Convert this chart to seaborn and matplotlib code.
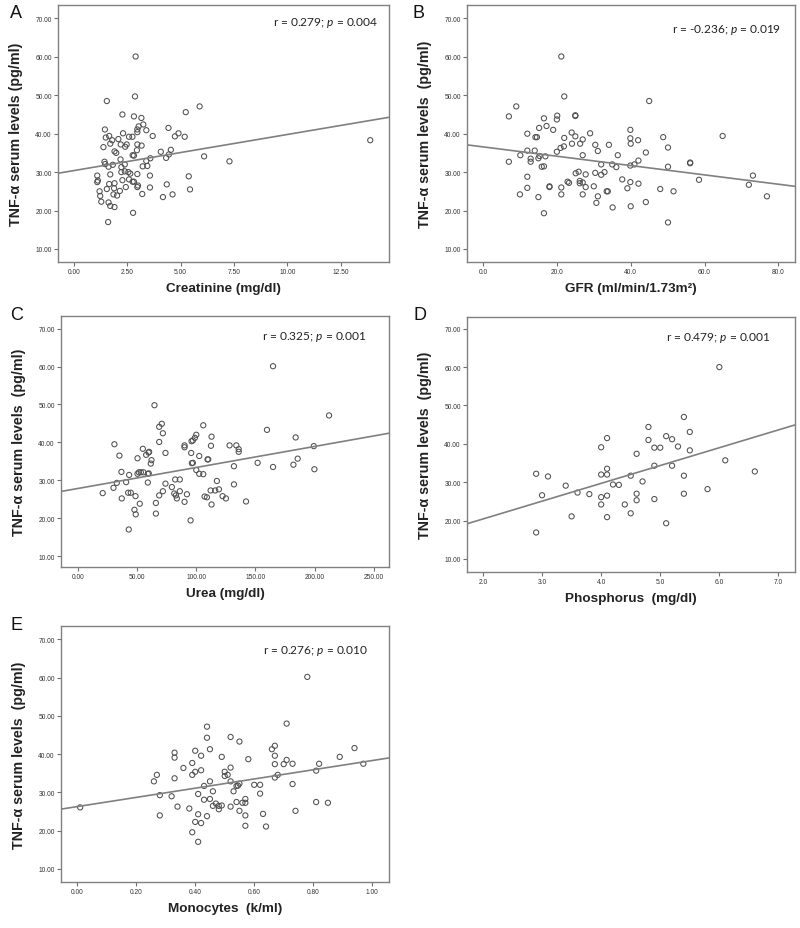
import numpy as np
import pandas as pd
import seaborn as sns
import matplotlib
matplotlib.use("Agg")
import matplotlib.pyplot as plt
from matplotlib.ticker import FormatStrFormatter, MultipleLocator

# data (perkiraan)
creat_x = [2.89, 1.54, 2.86, 5.89, 2.27, 2.81, 3.16, 5.24, 3.03, 2.97,
           3.25, 1.45, 4.43, 3.39, 2.97, 2.30, 4.90, 4.73, 5.19, 3.69,
           1.65, 1.49, 2.08, 2.58, 2.74, 1.79, 2.19, 2.47, 1.70, 1.38,
           2.97, 3.17, 2.40, 2.95, 1.90, 1.98, 4.07, 4.54, 4.45, 2.75,
           2.81, 6.10, 4.32, 3.58, 7.29, 1.43, 2.18, 3.39, 1.46, 1.82,
           2.38, 3.22, 3.44, 2.22, 1.62, 1.09, 1.70, 2.97, 3.56, 5.38,
           2.38, 2.22, 2.55, 1.12, 1.09, 2.27, 2.58, 2.81, 1.90, 1.65,
           2.75, 3.00, 2.97, 4.35, 3.56, 2.43, 1.54, 1.20, 2.15, 1.88,
           5.44, 1.23, 3.20, 1.85, 2.02, 4.62, 4.17, 1.28, 1.62, 1.70,
           1.90, 2.77, 1.60, 13.89, 2.64]
creat_y = [60.1, 48.5, 49.7, 47.1, 45.0, 44.5, 44.1, 45.6, 41.9, 41.1,
           42.4, 41.1, 41.5, 40.9, 40.4, 40.1, 40.1, 39.3, 39.2, 39.4,
           39.4, 39.0, 38.6, 39.2, 39.2, 38.3, 37.2, 37.2, 37.4, 36.5,
           37.2, 36.9, 36.6, 35.7, 35.4, 35.0, 35.3, 35.8, 34.6, 34.4,
           34.3, 34.1, 33.7, 33.6, 32.8, 32.7, 33.3, 32.9, 32.1, 31.9,
           32.0, 31.5, 31.6, 31.3, 31.4, 29.1, 29.4, 29.5, 29.1, 28.9,
           30.2, 30.0, 30.0, 27.8, 27.4, 27.9, 28.1, 27.5, 27.1, 26.9,
           27.5, 26.5, 26.1, 26.8, 26.0, 26.1, 25.6, 25.0, 25.1, 25.8,
           25.5, 23.8, 24.3, 24.2, 23.9, 24.2, 23.5, 22.3, 22.1, 21.2,
           20.9, 19.4, 17.0, 38.3, 29.6]

gfr_x = [21.2, 22.0, 45.0, 9.0, 7.0, 25.0, 25.0, 16.5, 20.1, 20.0,
         19.0, 17.2, 15.2, 12.0, 14.2, 14.6, 22.0, 25.0, 24.0, 29.0,
         27.0, 39.9, 39.9, 42.0, 48.8, 64.9, 40.0, 24.1, 26.3, 30.4,
         34.1, 50.1, 10.1, 12.0, 14.0, 31.1, 44.1, 20.0, 21.0, 21.9,
         27.0, 36.5, 7.0, 12.9, 12.9, 15.0, 15.3, 16.9, 56.1, 56.1,
         32.0, 35.0, 41.0, 15.9, 16.5, 36.1, 39.9, 42.1, 50.1, 73.1,
         25.1, 25.9, 27.8, 30.4, 32.0, 32.9, 12.0, 37.7, 58.5, 22.9,
         23.3, 26.2, 26.2, 27.0, 39.9, 42.1, 72.0, 18.0, 18.0, 12.0,
         21.2, 27.8, 30.0, 39.1, 48.0, 33.5, 33.8, 51.6, 10.0, 21.2,
         27.0, 31.1, 76.9, 15.0, 30.7, 44.1, 35.1, 40.0, 16.5, 50.1]
gfr_y = [60.1, 49.7, 48.5, 47.1, 44.5, 44.8, 44.6, 44.0, 44.7, 43.7,
         41.0, 42.0, 41.5, 40.0, 39.1, 39.1, 38.9, 39.3, 40.3, 40.1,
         38.5, 41.0, 38.8, 38.3, 39.1, 39.4, 37.4, 37.4, 37.4, 37.1,
         37.1, 36.4, 34.4, 35.6, 35.6, 35.5, 35.1, 35.3, 36.3, 36.7,
         34.4, 34.4, 32.7, 32.7, 33.5, 33.6, 34.2, 34.1, 32.5, 32.3,
         32.0, 32.0, 32.0, 31.4, 31.5, 31.3, 31.7, 33.0, 31.4, 29.1,
         29.7, 30.1, 29.4, 29.8, 29.3, 30.0, 28.8, 28.1, 28.0, 27.5,
         27.2, 27.7, 27.1, 27.3, 27.4, 27.0, 26.7, 26.3, 26.1, 25.9,
         26.0, 26.1, 26.3, 25.8, 25.6, 25.0, 25.0, 25.0, 24.2, 24.2,
         24.2, 23.7, 23.7, 23.5, 22.0, 22.2, 20.8, 21.1, 19.3, 16.9]

urea_x = [164.9, 212.2, 64.8, 71.0, 71.9, 68.8, 106.0, 159.8, 184.0, 100.1,
          113.0, 31.0, 68.8, 90.2, 90.2, 98.9, 96.1, 97.2, 112.5, 128.2,
          133.9, 135.9, 135.9, 199.3, 55.0, 60.3, 59.8, 35.2, 57.8, 74.1,
          95.8, 102.6, 109.6, 110.2, 50.5, 62.3, 61.7, 96.4, 97.2, 151.9,
          185.7, 182.1, 164.9, 131.9, 100.1, 36.9, 51.6, 53.3, 55.5, 60.0,
          59.2, 50.5, 43.4, 102.6, 106.0, 199.8, 33.0, 40.9, 59.2, 74.1,
          86.2, 82.3, 117.5, 30.2, 79.5, 131.9, 21.1, 42.6, 44.8, 71.9,
          68.8, 48.8, 86.2, 81.5, 82.9, 92.2, 112.2, 116.1, 119.2, 107.1,
          109.1, 122.3, 125.1, 37.2, 83.7, 52.4, 66.0, 90.2, 113.0, 142.1,
          47.9, 49.0, 66.0, 95.3, 43.1]
urea_y = [60.1, 47.1, 49.8, 44.9, 42.4, 44.1, 44.5, 43.3, 41.3, 42.0,
          41.5, 39.5, 40.1, 39.2, 38.7, 41.2, 40.3, 40.5, 39.1, 39.2,
          39.2, 38.2, 37.5, 39.0, 38.3, 37.5, 37.3, 36.5, 36.7, 37.2,
          37.2, 36.4, 35.5, 35.5, 35.8, 35.3, 34.4, 34.5, 34.6, 34.6,
          35.7, 34.1, 33.5, 33.7, 32.7, 32.2, 32.1, 32.1, 32.1, 31.8,
          31.7, 31.7, 31.4, 31.7, 31.6, 32.9, 29.3, 29.5, 29.4, 29.1,
          30.2, 30.2, 29.8, 28.0, 28.2, 28.9, 26.6, 26.7, 26.7, 27.1,
          26.0, 25.8, 27.1, 26.5, 26.0, 26.3, 27.3, 27.3, 27.6, 25.7,
          25.5, 25.8, 25.2, 25.2, 25.2, 23.8, 24.0, 24.3, 23.6, 24.4,
          22.2, 21.0, 21.2, 19.4, 17.0]

phos_x = [6.0, 5.4, 4.8, 5.5, 5.1, 5.2, 4.1, 4.8, 5.3, 4.0,
          4.9, 5.0, 5.5, 4.6, 6.1, 4.1, 4.9, 5.2, 2.9, 4.0,
          4.1, 5.4, 4.5, 3.1, 6.6, 4.2, 4.3, 3.4, 4.7, 3.0,
          3.6, 3.8, 4.6, 4.0, 4.1, 4.6, 4.9, 5.4, 5.8, 4.0,
          4.4, 4.5, 3.5, 4.1, 5.1, 2.9]
phos_y = [60.0, 47.0, 44.4, 43.1, 42.0, 41.2, 41.5, 41.0, 39.3, 39.1,
          39.0, 39.0, 38.3, 37.4, 35.7, 33.5, 34.3, 34.3, 32.2, 32.0,
          32.0, 31.7, 31.7, 31.5, 32.8, 29.4, 29.3, 29.1, 30.2, 26.6,
          27.3, 26.9, 27.0, 26.1, 26.5, 25.3, 25.6, 27.0, 28.2, 24.2,
          24.2, 21.9, 21.1, 20.9, 19.3, 16.9]

mono_x = [0.78, 0.01, 0.26, 0.27, 0.28, 0.28, 0.32, 0.33, 0.33, 0.33,
          0.34, 0.36, 0.38, 0.39, 0.39, 0.39, 0.40, 0.40, 0.40, 0.41,
          0.41, 0.41, 0.42, 0.42, 0.42, 0.43, 0.43, 0.44, 0.44, 0.44,
          0.45, 0.45, 0.45, 0.46, 0.46, 0.47, 0.48, 0.48, 0.49, 0.49,
          0.50, 0.50, 0.51, 0.52, 0.52, 0.52, 0.52, 0.53, 0.54, 0.54,
          0.545, 0.55, 0.55, 0.55, 0.57, 0.57, 0.57, 0.57, 0.56, 0.58,
          0.60, 0.62, 0.62, 0.63, 0.64, 0.66, 0.67, 0.67, 0.67, 0.67,
          0.68, 0.71, 0.71, 0.70, 0.73, 0.73, 0.74, 0.81, 0.81, 0.82,
          0.85, 0.89, 0.94, 0.97]
mono_y = [60.2, 26.1, 32.9, 34.6, 29.3, 24.0, 29.0, 40.4, 39.1, 33.7,
          26.3, 36.4, 25.8, 37.7, 34.6, 19.6, 40.9, 35.4, 22.3, 29.6,
          24.3, 17.1, 39.6, 35.8, 22.0, 31.7, 28.1, 47.2, 44.3, 23.8,
          41.3, 32.9, 28.3, 30.3, 26.5, 27.1, 26.5, 25.6, 39.3, 26.6,
          35.4, 34.3, 34.6, 44.5, 36.5, 32.9, 26.3, 30.3, 31.7, 27.5,
          31.8, 32.3, 43.3, 25.2, 28.3, 27.3, 24.0, 21.3, 27.3, 38.7,
          32.0, 32.0, 29.7, 24.4, 21.1, 41.3, 42.2, 39.6, 37.4, 33.9,
          34.6, 38.5, 48.0, 37.4, 37.5, 32.2, 25.2, 35.7, 27.5, 37.5,
          27.3, 39.3, 41.6, 37.5]

panel_letters = ["A", "B", "C", "D", "E"]
x_labels = ["Creatinine (mg/dl)", "GFR (ml/min/1.73m\u00b2)", "Urea (mg/dl)",
            "Phosphorus  (mg/dl)", "Monocytes  (k/ml)"]
y_labels = ["TNF-\u03b1 serum levels (pg/ml)"] + ["TNF-\u03b1 serum levels  (pg/ml)"] * 4
stats_text = ["r = 0.279; $p$ = 0.004", "r = -0.236; $p$ = 0.019",
              "r = 0.325; $p$ = 0.001", "r = 0.479; $p$ = 0.001",
              "r = 0.276; $p$ = 0.010"]
y_ticks = [10, 20, 30, 40, 50, 60, 70]

sns.set_style("white")
plt.rcParams['font.family'] = ['Liberation Sans', 'DejaVu Sans']
plt.rcParams['mathtext.fontset'] = 'custom'
plt.rcParams['mathtext.rm'] = 'Lato'
plt.rcParams['mathtext.it'] = 'Lato:italic'

W, H = 800, 929
fig = plt.figure(figsize=(W / 100, H / 100), dpi=100)


def box(l, t, r, b):
    return [l / W, 1 - b / H, (r - l) / W, (b - t) / H]


# posisi panel (pixel), batas sumbu, step tick, format tick
panels = [
    dict(x=creat_x, y=creat_y, px=(58, 6, 389, 263), xlim=(-0.75, 14.77), ylim=(6.6, 73.5),
         step=2.5, fmt="%.2f", letter=(10, 14), stat=(378, 23)),
    dict(x=gfr_x, y=gfr_y, px=(467, 6, 795, 263), xlim=(-4.34, 84.5), ylim=(6.6, 73.5),
         step=20, fmt="%.1f", letter=(412, 14), stat=(781, 30)),
    dict(x=urea_x, y=urea_y, px=(61, 317, 389, 568), xlim=(-14.1, 262.8), ylim=(7.1, 73.35),
         step=50, fmt="%.2f", letter=(10, 316), stat=(367, 337)),
    dict(x=phos_x, y=phos_y, px=(467, 318, 795, 573), xlim=(1.73, 7.28), ylim=(6.6, 73.05),
         step=1, fmt="%.1f", letter=(414, 316), stat=(771, 338)),
    dict(x=mono_x, y=mono_y, px=(61, 627, 389, 883), xlim=(-0.055, 1.057), ylim=(6.6, 73.5),
         step=0.2, fmt="%.2f", letter=(10, 626), stat=(368, 651)),
]

for i, p in enumerate(panels):
    ax = fig.add_axes(box(*p["px"]))
    ax.set_xlim(p["xlim"])
    ax.set_ylim(p["ylim"])
    sns.regplot(x=np.array(p["x"]), y=np.array(p["y"]), ax=ax, ci=None, truncate=False,
                color="#505050",
                scatter_kws=dict(s=14, facecolors="none", edgecolors="#505050",
                                 linewidths=0.75, alpha=1),
                line_kws=dict(color="#808080", lw=1.2))
    ax.set_xlim(p["xlim"])
    ax.set_ylim(p["ylim"])
    ax.set_yticks(y_ticks)
    ax.xaxis.set_major_locator(MultipleLocator(p["step"]))
    ax.xaxis.set_major_formatter(FormatStrFormatter(p["fmt"]))
    ax.yaxis.set_major_formatter(FormatStrFormatter("%.2f"))
    ax.tick_params(axis="both", bottom=True, left=True, direction="out", length=3,
                   width=0.8, color="#707070", labelsize=4.8, labelcolor="#333333", pad=1.5)
    for sp in ax.spines.values():
        sp.set_color("#808080")
        sp.set_linewidth(1.0)

    w_px = p["px"][2] - p["px"][0]
    h_px = p["px"][3] - p["px"][1]
    ax.set_xlabel(x_labels[i], fontsize=9.7, fontweight="bold", color="#222222")
    ax.xaxis.set_label_coords(0.5, -20 / h_px)
    ax.set_ylabel(y_labels[i], fontsize=10.3, fontweight="bold", color="#222222")
    ax.yaxis.set_label_coords(-35 / w_px, 0.5)

    fig.text(p["letter"][0] / W, 1 - p["letter"][1] / H, panel_letters[i],
             fontsize=13, ha="left", va="center", color="#111111")
    fig.text(p["stat"][0] / W, 1 - p["stat"][1] / H, stats_text[i],
             fontsize=8.6, family="Lato", ha="right", va="center", color="#222222")

fig.savefig("out.png", dpi=100)
